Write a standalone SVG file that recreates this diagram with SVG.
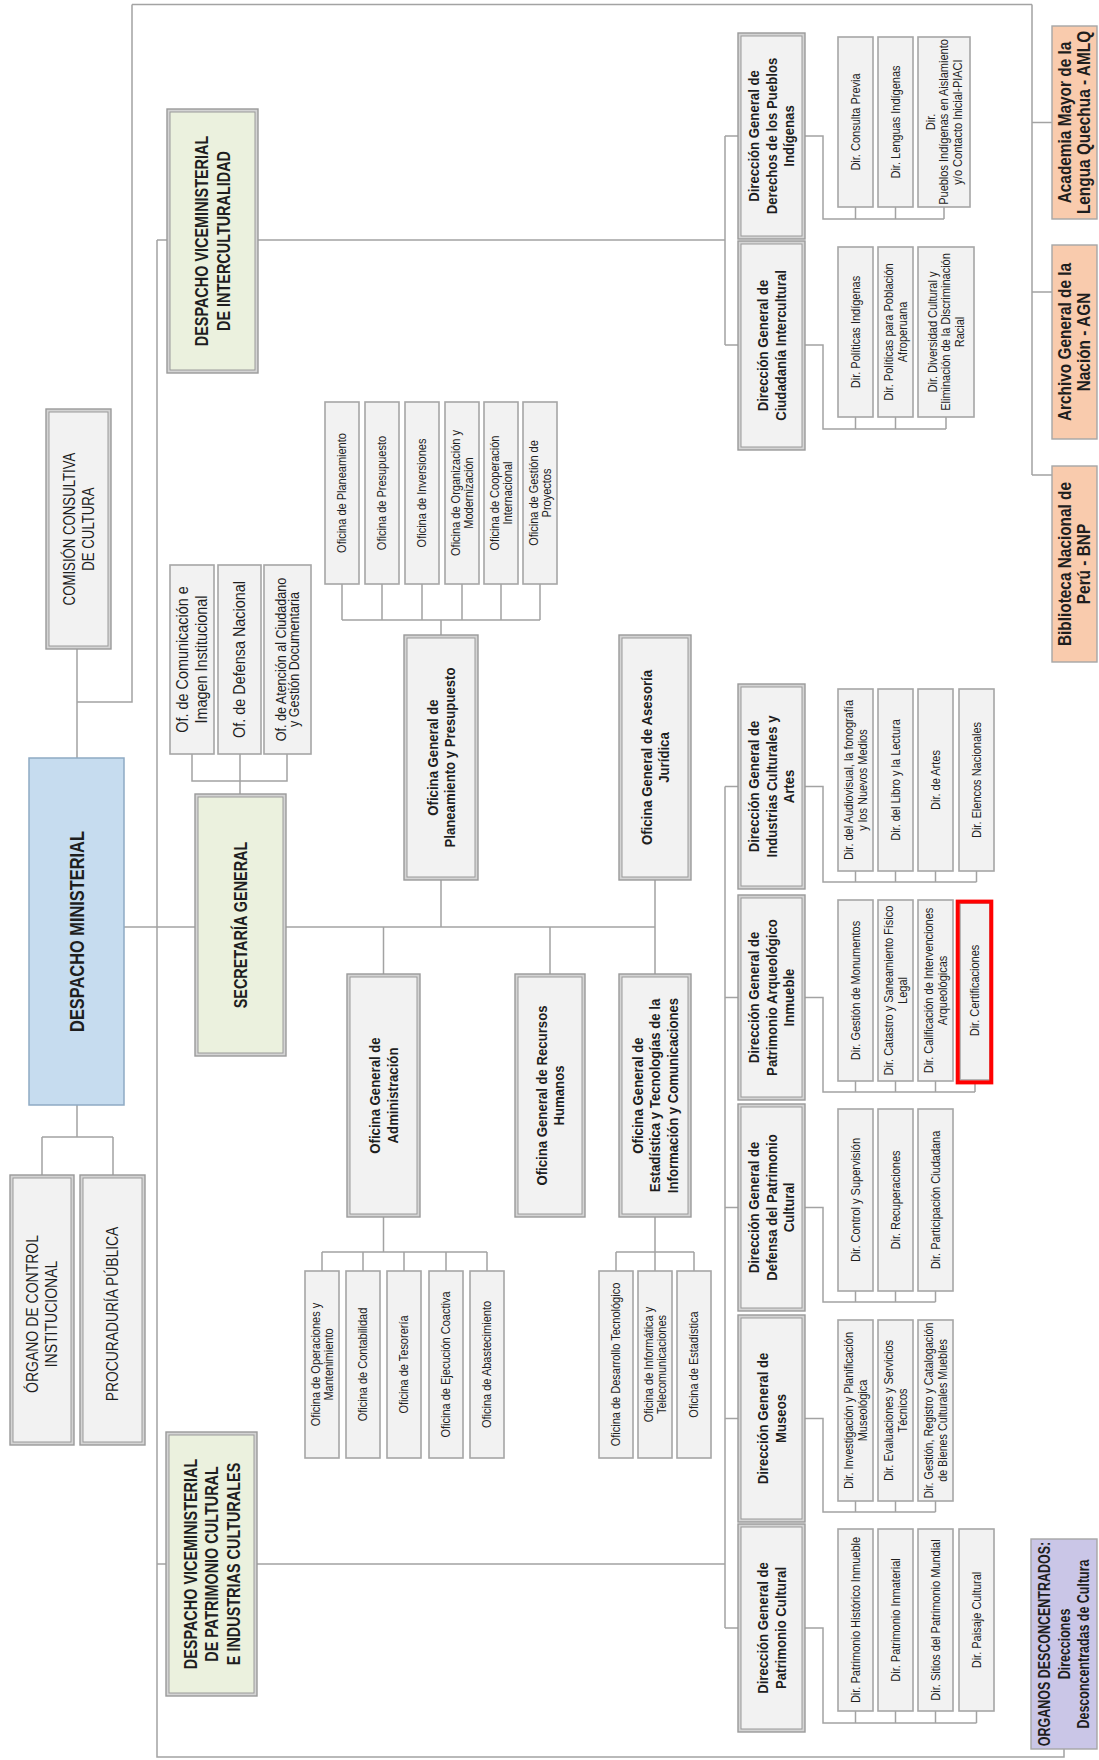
<svg xmlns="http://www.w3.org/2000/svg" width="1099" height="1760" viewBox="0 0 1099 1760">
<style>
.ln{fill:none;stroke:#a3a3a3;stroke-width:1.5}
.bx{fill:#f2f2f2;stroke:#a6a6a6;stroke-width:1.6}
.o{fill:#d4d4d4;stroke:#9a9a9a;stroke-width:1.4}
.i{fill:#f2f2f2;stroke:#9a9a9a;stroke-width:1}
.ig{fill:#ebf1de;stroke:#9a9a9a;stroke-width:1}
.pe{fill:#f9cbad;stroke:#a6a6a6;stroke-width:1.4}
.pu{fill:#cac6e7;stroke:#a6a6a6;stroke-width:1.4}
text{font-family:"Liberation Sans",Arial,sans-serif;fill:#1e1e1e;text-anchor:middle}
.s{font-size:12.5px}
.a{font-size:14px}
.m{font-size:16px}
.b{font-size:15.5px;font-weight:bold}
.v{font-size:19px;font-weight:bold}
.d{font-size:21px;font-weight:bold}
.c{font-size:16.5px}
.p{font-size:17.5px;font-weight:bold}
.g{font-size:16px;font-weight:bold}
</style>
<rect width="1099" height="1760" fill="#ffffff"/>
<g id="connectors">
<path class="ln" d="M132,4.5 H1032 M132,4.5 V702 H77 M77,649 V758"/>
<path class="ln" d="M1032,4.5 V475 M1032,122.5 H1052 M1032,292 H1052 M1032,475 H1052"/>
<path class="ln" d="M124,927 H655"/>
<path class="ln" d="M157,240 V1757 H1064 V1749"/>
<path class="ln" d="M157,240 H167 M258,240 H725 M725,136 V345 M725,136 H738 M725,345 H738"/>
<path class="ln" d="M157,1564 H166 M257,1564 H725 M725,786.5 V1628 M725,786.5 H738 M725,997.5 H738 M725,1207.5 H738 M725,1418.5 H738 M725,1628 H738"/>
<path class="ln" d="M77,1105 V1137 M42,1137 H113 M42,1137 V1175 M113,1137 V1175"/>
<path class="ln" d="M192,754 V781 H287 V754 M240,754 V794"/>
<path class="ln" d="M441,927 V880 M441,635 V620 M342,620 H540 M342,620 V584 M382,620 V584 M422,620 V584 M462,620 V584 M501,620 V584 M540,620 V584"/>
<path class="ln" d="M383.5,927 V974 M383.5,1217 V1252 M322,1252 H487 M322,1252 V1271 M363,1252 V1271 M404,1252 V1271 M446,1252 V1271 M487,1252 V1271"/>
<path class="ln" d="M550,927 V974 M655,880 V974 M655,1217 V1252 M616,1252 H694 M616,1252 V1271 M655,1252 V1271 M694,1252 V1271"/>
<path class="ln" d="M805,136 H823 V219 H944 M855.5,219 V207 M895.5,219 V207 M944,219 V207"/>
<path class="ln" d="M805,345 H823 V429 H946 M855.5,429 V417 M895.5,429 V417 M946,429 V417"/>
<path class="ln" d="M805,786.5 H823 V882 H976.5 M855.5,882 V871 M895.5,882 V871 M935.5,882 V871 M976.5,882 V871"/>
<path class="ln" d="M805,997.5 H823 V1092 H975 M855.5,1092 V1081 M895.5,1092 V1081 M935.5,1092 V1081 M975,1092 V1084"/>
<path class="ln" d="M805,1207.5 H823 V1302 H935.5 M855.5,1302 V1291 M895.5,1302 V1291 M935.5,1302 V1291"/>
<path class="ln" d="M805,1418.5 H823 V1512 H935.5 M855.5,1512 V1501 M895.5,1512 V1501 M935.5,1512 V1501"/>
<path class="ln" d="M805,1628 H823 V1723 H976.5 M855.5,1723 V1711 M895.5,1723 V1711 M935.5,1723 V1711 M976.5,1723 V1711"/>
</g>

<g id="comision"><rect class="o" x="46" y="409" width="65" height="240"/><rect class="i" x="49" y="412" width="59" height="234"/>
<text class="c" transform="translate(78.5,529) rotate(-90) scale(0.8,1)"><tspan x="0" y="-3.7">COMISIÓN CONSULTIVA</tspan><tspan x="0" y="15.3">DE CULTURA</tspan></text></g>

<g id="despacho-ministerial"><rect x="29" y="758" width="95" height="347" fill="#c6dcef" stroke="#8eaac4" stroke-width="1.5"/>
<text class="d" transform="translate(76.5,931.5) rotate(-90) scale(0.78,1)"><tspan x="0" y="7.4">DESPACHO MINISTERIAL</tspan></text></g>

<g id="organo-control"><rect class="o" x="10" y="1175" width="64" height="270"/><rect class="i" x="13" y="1178" width="58" height="264"/>
<text class="c" transform="translate(42,1314) rotate(-90) scale(0.85,1)"><tspan x="0" y="-3.7">ÓRGANO DE CONTROL</tspan><tspan x="0" y="15.3">INSTITUCIONAL</tspan></text></g>

<g id="procuraduria"><rect class="o" x="80" y="1175" width="65" height="270"/><rect class="i" x="83" y="1178" width="59" height="264"/>
<text class="c" transform="translate(112.5,1314) rotate(-90) scale(0.84,1)"><tspan x="0" y="5.8">PROCURADURÍA PÚBLICA</tspan></text></g>

<g id="dv-interculturalidad"><rect class="o" x="167" y="109" width="91" height="264"/><rect class="ig" x="170" y="112" width="85" height="258"/>
<text class="v" transform="translate(212.5,241) rotate(-90) scale(0.76,1)"><tspan x="0" y="-4.05">DESPACHO VICEMINISTERIAL</tspan><tspan x="0" y="17.45">DE INTERCULTURALIDAD</tspan></text></g>

<g id="dv-patrimonio"><rect class="o" x="166" y="1432" width="91" height="264"/><rect class="ig" x="169" y="1435" width="85" height="258"/>
<text class="v" transform="translate(211.5,1564) rotate(-90) scale(0.76,1)"><tspan x="0" y="-14.8">DESPACHO VICEMINISTERIAL</tspan><tspan x="0" y="6.7">DE PATRIMONIO CULTURAL</tspan><tspan x="0" y="28.2">E INDUSTRIAS CULTURALES</tspan></text></g>

<g id="secretaria-general"><rect class="o" x="195" y="794" width="91" height="262"/><rect class="ig" x="198" y="797" width="85" height="256"/>
<text class="v" transform="translate(240.5,925) rotate(-90) scale(0.76,1)"><tspan x="0" y="6.7">SECRETARÍA GENERAL</tspan></text></g>

<g id="of-comunicacion"><rect class="bx" x="170" y="565" width="44" height="189"/>
<text class="m" transform="translate(192,659.5) rotate(-90) scale(0.9,1)"><tspan x="0" y="-3.9">Of. de Comunicación e</tspan><tspan x="0" y="15.1">Imagen Institucional</tspan></text></g>
<g id="of-defensa"><rect class="bx" x="218" y="565" width="43" height="189"/>
<text class="m" transform="translate(239.5,659.5) rotate(-90) scale(0.9,1)"><tspan x="0" y="5.6">Of. de Defensa Nacional</tspan></text></g>
<g id="of-atencion"><rect class="bx" x="264" y="565" width="47" height="189"/>
<text class="a" transform="translate(287.5,659.5) rotate(-90) scale(0.9,1)"><tspan x="0" y="-1.85">Of. de Atención al Ciudadano</tspan><tspan x="0" y="11.65">y Gestión Documentaria</tspan></text></g>

<g id="of-planeamiento"><rect class="bx" x="325" y="402" width="34" height="182"/>
<text class="s" transform="translate(342,493) rotate(-90) scale(0.88,1)"><tspan x="0" y="4.4">Oficina de Planeamiento</tspan></text></g>
<g id="of-presupuesto"><rect class="bx" x="365" y="402" width="34" height="182"/>
<text class="s" transform="translate(382,493) rotate(-90) scale(0.88,1)"><tspan x="0" y="4.4">Oficina de Presupuesto</tspan></text></g>
<g id="of-inversiones"><rect class="bx" x="405" y="402" width="34" height="182"/>
<text class="s" transform="translate(422,493) rotate(-90) scale(0.88,1)"><tspan x="0" y="4.4">Oficina de Inversiones</tspan></text></g>
<g id="of-organizacion"><rect class="bx" x="445" y="402" width="34" height="182"/>
<text class="s" transform="translate(462,493) rotate(-90) scale(0.88,1)"><tspan x="0" y="-2.35">Oficina de Organización y</tspan><tspan x="0" y="11.15">Modernización</tspan></text></g>
<g id="of-cooperacion"><rect class="bx" x="484" y="402" width="34" height="182"/>
<text class="s" transform="translate(501,493) rotate(-90) scale(0.88,1)"><tspan x="0" y="-2.35">Oficina de Cooperación</tspan><tspan x="0" y="11.15">Internacional</tspan></text></g>
<g id="of-proyectos"><rect class="bx" x="523" y="402" width="34" height="182"/>
<text class="s" transform="translate(540,493) rotate(-90) scale(0.88,1)"><tspan x="0" y="-2.35">Oficina de Gestión de</tspan><tspan x="0" y="11.15">Proyectos</tspan></text></g>

<g id="og-planeamiento"><rect class="o" x="404" y="635" width="74" height="245"/><rect class="i" x="407" y="638" width="68" height="239"/>
<text class="b" transform="translate(441,757.5) rotate(-90) scale(0.85,1)"><tspan x="0" y="-3.35">Oficina General de</tspan><tspan x="0" y="14.15">Planeamiento y Presupuesto</tspan></text></g>
<g id="og-asesoria"><rect class="o" x="619" y="635" width="72" height="245"/><rect class="i" x="622" y="638" width="66" height="239"/>
<text class="b" transform="translate(655,757.5) rotate(-90) scale(0.85,1)"><tspan x="0" y="-3.35">Oficina General de Asesoría</tspan><tspan x="0" y="14.15">Jurídica</tspan></text></g>
<g id="og-administracion"><rect class="o" x="347" y="974" width="73" height="243"/><rect class="i" x="350" y="977" width="67" height="237"/>
<text class="b" transform="translate(383.5,1095.5) rotate(-90) scale(0.85,1)"><tspan x="0" y="-3.35">Oficina General de</tspan><tspan x="0" y="14.15">Administración</tspan></text></g>
<g id="og-rrhh"><rect class="o" x="515" y="974" width="70" height="243"/><rect class="i" x="518" y="977" width="64" height="237"/>
<text class="b" transform="translate(550,1095.5) rotate(-90) scale(0.85,1)"><tspan x="0" y="-3.35">Oficina General de Recursos</tspan><tspan x="0" y="14.15">Humanos</tspan></text></g>
<g id="og-estadistica"><rect class="o" x="619" y="974" width="72" height="243"/><rect class="i" x="622" y="977" width="66" height="237"/>
<text class="b" transform="translate(655,1095.5) rotate(-90) scale(0.85,1)"><tspan x="0" y="-12.1">Oficina General de</tspan><tspan x="0" y="5.4">Estadística y Tecnologías de la</tspan><tspan x="0" y="22.9">Información y Comunicaciones</tspan></text></g>

<g id="of-operaciones"><rect class="bx" x="305" y="1271" width="34" height="187"/>
<text class="s" transform="translate(322,1364.5) rotate(-90) scale(0.88,1)"><tspan x="0" y="-2.35">Oficina de Operaciones y</tspan><tspan x="0" y="11.15">Mantenimiento</tspan></text></g>
<g id="of-contabilidad"><rect class="bx" x="346" y="1271" width="34" height="187"/>
<text class="s" transform="translate(363,1364.5) rotate(-90) scale(0.88,1)"><tspan x="0" y="4.4">Oficina de Contabilidad</tspan></text></g>
<g id="of-tesoreria"><rect class="bx" x="387" y="1271" width="34" height="187"/>
<text class="s" transform="translate(404,1364.5) rotate(-90) scale(0.88,1)"><tspan x="0" y="4.4">Oficina de Tesorería</tspan></text></g>
<g id="of-coactiva"><rect class="bx" x="429" y="1271" width="34" height="187"/>
<text class="s" transform="translate(446,1364.5) rotate(-90) scale(0.88,1)"><tspan x="0" y="4.4">Oficina de Ejecución Coactiva</tspan></text></g>
<g id="of-abastecimiento"><rect class="bx" x="470" y="1271" width="34" height="187"/>
<text class="s" transform="translate(487,1364.5) rotate(-90) scale(0.88,1)"><tspan x="0" y="4.4">Oficina de Abastecimiento</tspan></text></g>

<g id="of-desarrollo"><rect class="bx" x="599" y="1271" width="34" height="187"/>
<text class="s" transform="translate(616,1364.5) rotate(-90) scale(0.88,1)"><tspan x="0" y="4.4">Oficina de Desarrollo Tecnológico</tspan></text></g>
<g id="of-informatica"><rect class="bx" x="638" y="1271" width="34" height="187"/>
<text class="s" transform="translate(655,1364.5) rotate(-90) scale(0.88,1)"><tspan x="0" y="-2.35">Oficina de Informática y</tspan><tspan x="0" y="11.15">Telecomunicaciones</tspan></text></g>
<g id="of-estadistica"><rect class="bx" x="677" y="1271" width="34" height="187"/>
<text class="s" transform="translate(694,1364.5) rotate(-90) scale(0.88,1)"><tspan x="0" y="4.4">Oficina de Estadística</tspan></text></g>

<g id="dg-derechos"><rect class="o" x="738" y="33" width="67" height="206"/><rect class="i" x="741" y="36" width="61" height="200"/>
<text class="b" transform="translate(771.5,136) rotate(-90) scale(0.85,1)"><tspan x="0" y="-12.1">Dirección General de</tspan><tspan x="0" y="5.4">Derechos de los Pueblos</tspan><tspan x="0" y="22.9">Indígenas</tspan></text></g>
<g id="dg-ciudadania"><rect class="o" x="738" y="241" width="67" height="209"/><rect class="i" x="741" y="244" width="61" height="203"/>
<text class="b" transform="translate(771.5,345.5) rotate(-90) scale(0.85,1)"><tspan x="0" y="-3.35">Dirección General de</tspan><tspan x="0" y="14.15">Ciudadanía Intercultural</tspan></text></g>
<g id="dg-industrias"><rect class="o" x="738" y="684" width="67" height="205"/><rect class="i" x="741" y="687" width="61" height="199"/>
<text class="b" transform="translate(771.5,786.5) rotate(-90) scale(0.85,1)"><tspan x="0" y="-12.1">Dirección General de</tspan><tspan x="0" y="5.4">Industrias Culturales y</tspan><tspan x="0" y="22.9">Artes</tspan></text></g>
<g id="dg-arqueologico"><rect class="o" x="738" y="895" width="67" height="205"/><rect class="i" x="741" y="898" width="61" height="199"/>
<text class="b" transform="translate(771.5,997.5) rotate(-90) scale(0.85,1)"><tspan x="0" y="-12.1">Dirección General de</tspan><tspan x="0" y="5.4">Patrimonio Arqueológico</tspan><tspan x="0" y="22.9">Inmueble</tspan></text></g>
<g id="dg-defensa"><rect class="o" x="738" y="1104" width="67" height="207"/><rect class="i" x="741" y="1107" width="61" height="201"/>
<text class="b" transform="translate(771.5,1207.5) rotate(-90) scale(0.85,1)"><tspan x="0" y="-12.1">Dirección General de</tspan><tspan x="0" y="5.4">Defensa del Patrimonio</tspan><tspan x="0" y="22.9">Cultural</tspan></text></g>
<g id="dg-museos"><rect class="o" x="738" y="1315" width="67" height="207"/><rect class="i" x="741" y="1318" width="61" height="201"/>
<text class="b" transform="translate(771.5,1418.5) rotate(-90) scale(0.85,1)"><tspan x="0" y="-3.35">Dirección General de</tspan><tspan x="0" y="14.15">Museos</tspan></text></g>
<g id="dg-patrimonio"><rect class="o" x="738" y="1524" width="67" height="208"/><rect class="i" x="741" y="1527" width="61" height="202"/>
<text class="b" transform="translate(771.5,1628) rotate(-90) scale(0.85,1)"><tspan x="0" y="-3.35">Dirección General de</tspan><tspan x="0" y="14.15">Patrimonio Cultural</tspan></text></g>

<g id="dir-consulta"><rect class="bx" x="838" y="37" width="35" height="170"/>
<text class="s" transform="translate(855.5,122) rotate(-90) scale(0.88,1)"><tspan x="0" y="4.4">Dir. Consulta Previa</tspan></text></g>
<g id="dir-lenguas"><rect class="bx" x="878" y="37" width="35" height="170"/>
<text class="s" transform="translate(895.5,122) rotate(-90) scale(0.88,1)"><tspan x="0" y="4.4">Dir. Lenguas Indígenas</tspan></text></g>
<g id="dir-piaci"><rect class="bx" x="918" y="37" width="52" height="170"/>
<text class="s" transform="translate(944,122) rotate(-90) scale(0.88,1)"><tspan x="0" y="-9.1">Dir.</tspan><tspan x="0" y="4.4">Pueblos Indígenas en Aislamiento</tspan><tspan x="0" y="17.9">y/o Contacto Inicial-PIACI</tspan></text></g>

<g id="dir-politicas"><rect class="bx" x="838" y="247" width="35" height="170"/>
<text class="s" transform="translate(855.5,332) rotate(-90) scale(0.88,1)"><tspan x="0" y="4.4">Dir. Políticas Indígenas</tspan></text></g>
<g id="dir-afroperuana"><rect class="bx" x="878" y="247" width="35" height="170"/>
<text class="s" transform="translate(895.5,332) rotate(-90) scale(0.88,1)"><tspan x="0" y="-2.35">Dir. Políticas para Población</tspan><tspan x="0" y="11.15">Afroperuana</tspan></text></g>
<g id="dir-diversidad"><rect class="bx" x="918" y="247" width="56" height="170"/>
<text class="s" transform="translate(946,332) rotate(-90) scale(0.88,1)"><tspan x="0" y="-9.1">Dir. Diversidad Cultural y</tspan><tspan x="0" y="4.4">Eliminación de la Discriminación</tspan><tspan x="0" y="17.9">Racial</tspan></text></g>

<g id="dir-audiovisual"><rect class="bx" x="838" y="689" width="35" height="182"/>
<text class="s" transform="translate(855.5,780) rotate(-90) scale(0.88,1)"><tspan x="0" y="-2.35">Dir. del Audiovisual, la fonografía</tspan><tspan x="0" y="11.15">y los Nuevos Medios</tspan></text></g>
<g id="dir-libro"><rect class="bx" x="878" y="689" width="35" height="182"/>
<text class="s" transform="translate(895.5,780) rotate(-90) scale(0.88,1)"><tspan x="0" y="4.4">Dir. del Libro y la Lectura</tspan></text></g>
<g id="dir-artes"><rect class="bx" x="918" y="689" width="35" height="182"/>
<text class="s" transform="translate(935.5,780) rotate(-90) scale(0.88,1)"><tspan x="0" y="4.4">Dir. de Artes</tspan></text></g>
<g id="dir-elencos"><rect class="bx" x="959" y="689" width="35" height="182"/>
<text class="s" transform="translate(976.5,780) rotate(-90) scale(0.88,1)"><tspan x="0" y="4.4">Dir. Elencos Nacionales</tspan></text></g>

<g id="dir-monumentos"><rect class="bx" x="838" y="900" width="35" height="181"/>
<text class="s" transform="translate(855.5,990.5) rotate(-90) scale(0.88,1)"><tspan x="0" y="4.4">Dir. Gestión de Monumentos</tspan></text></g>
<g id="dir-catastro"><rect class="bx" x="878" y="900" width="35" height="181"/>
<text class="s" transform="translate(895.5,990.5) rotate(-90) scale(0.88,1)"><tspan x="0" y="-2.35">Dir. Catastro y Saneamiento Físico</tspan><tspan x="0" y="11.15">Legal</tspan></text></g>
<g id="dir-calificacion"><rect class="bx" x="918" y="900" width="35" height="181"/>
<text class="s" transform="translate(935.5,990.5) rotate(-90) scale(0.88,1)"><tspan x="0" y="-2.35">Dir. Calificación de Intervenciones</tspan><tspan x="0" y="11.15">Arqueológicas</tspan></text></g>
<g id="dir-certificaciones"><rect class="bx" x="960" y="903" width="30" height="177"/>
<rect x="957.7" y="901.6" width="33.6" height="180.8" fill="none" stroke="#ff0000" stroke-width="4"/>
<text class="s" transform="translate(975,990.5) rotate(-90) scale(0.88,1)"><tspan x="0" y="4.4">Dir. Certificaciones</tspan></text></g>

<g id="dir-control"><rect class="bx" x="838" y="1109" width="35" height="182"/>
<text class="s" transform="translate(855.5,1200) rotate(-90) scale(0.88,1)"><tspan x="0" y="4.4">Dir. Control y Supervisión</tspan></text></g>
<g id="dir-recuperaciones"><rect class="bx" x="878" y="1109" width="35" height="182"/>
<text class="s" transform="translate(895.5,1200) rotate(-90) scale(0.88,1)"><tspan x="0" y="4.4">Dir. Recuperaciones</tspan></text></g>
<g id="dir-participacion"><rect class="bx" x="918" y="1109" width="35" height="182"/>
<text class="s" transform="translate(935.5,1200) rotate(-90) scale(0.88,1)"><tspan x="0" y="4.4">Dir. Participación Ciudadana</tspan></text></g>

<g id="dir-investigacion"><rect class="bx" x="838" y="1320" width="35" height="181"/>
<text class="s" transform="translate(855.5,1410.5) rotate(-90) scale(0.88,1)"><tspan x="0" y="-2.35">Dir. Investigación y Planificación</tspan><tspan x="0" y="11.15">Museológica</tspan></text></g>
<g id="dir-evaluaciones"><rect class="bx" x="878" y="1320" width="35" height="181"/>
<text class="s" transform="translate(895.5,1410.5) rotate(-90) scale(0.88,1)"><tspan x="0" y="-2.35">Dir. Evaluaciones y Servicios</tspan><tspan x="0" y="11.15">Técnicos</tspan></text></g>
<g id="dir-gestion-registro"><rect class="bx" x="918" y="1320" width="35" height="181"/>
<text class="s" transform="translate(935.5,1410.5) rotate(-90) scale(0.86,1)"><tspan x="0" y="-2.35">Dir. Gestión, Registro y Catalogación</tspan><tspan x="0" y="11.15">de Bienes Culturales Muebles</tspan></text></g>

<g id="dir-historico"><rect class="bx" x="838" y="1529" width="35" height="182"/>
<text class="s" transform="translate(855.5,1620) rotate(-90) scale(0.88,1)"><tspan x="0" y="4.4">Dir. Patrimonio Histórico Inmueble</tspan></text></g>
<g id="dir-inmaterial"><rect class="bx" x="878" y="1529" width="35" height="182"/>
<text class="s" transform="translate(895.5,1620) rotate(-90) scale(0.88,1)"><tspan x="0" y="4.4">Dir. Patrimonio Inmaterial</tspan></text></g>
<g id="dir-sitios"><rect class="bx" x="918" y="1529" width="35" height="182"/>
<text class="s" transform="translate(935.5,1620) rotate(-90) scale(0.88,1)"><tspan x="0" y="4.4">Dir. Sitios del Patrimonio Mundial</tspan></text></g>
<g id="dir-paisaje"><rect class="bx" x="959" y="1529" width="35" height="182"/>
<text class="s" transform="translate(976.5,1620) rotate(-90) scale(0.88,1)"><tspan x="0" y="4.4">Dir. Paisaje Cultural</tspan></text></g>

<g id="amlq"><rect class="pe" x="1052" y="26" width="45" height="193"/>
<text class="p" transform="translate(1074.5,122.5) rotate(-90) scale(0.88,1)"><tspan x="0" y="-3.65">Academia Mayor de la</tspan><tspan x="0" y="15.85">Lengua Quechua - AMLQ</tspan></text></g>
<g id="agn"><rect class="pe" x="1052" y="245" width="45" height="194"/>
<text class="p" transform="translate(1074.5,342) rotate(-90) scale(0.88,1)"><tspan x="0" y="-3.65">Archivo General de la</tspan><tspan x="0" y="15.85">Nación - AGN</tspan></text></g>
<g id="bnp"><rect class="pe" x="1052" y="466" width="45" height="196"/>
<text class="p" transform="translate(1074.5,564) rotate(-90) scale(0.88,1)"><tspan x="0" y="-3.65">Biblioteca Nacional de</tspan><tspan x="0" y="15.85">Perú - BNP</tspan></text></g>

<g id="organos-desconcentrados"><rect class="pu" x="1031" y="1539" width="66" height="210"/>
<text class="g" transform="translate(1064,1644) rotate(-90) scale(0.78,1)"><tspan x="0" y="-13.9">ORGANOS DESCONCENTRADOS:</tspan><tspan x="0" y="5.6">Direcciones</tspan><tspan x="0" y="25.1">Desconcentradas de Cultura</tspan></text></g>
</svg>
